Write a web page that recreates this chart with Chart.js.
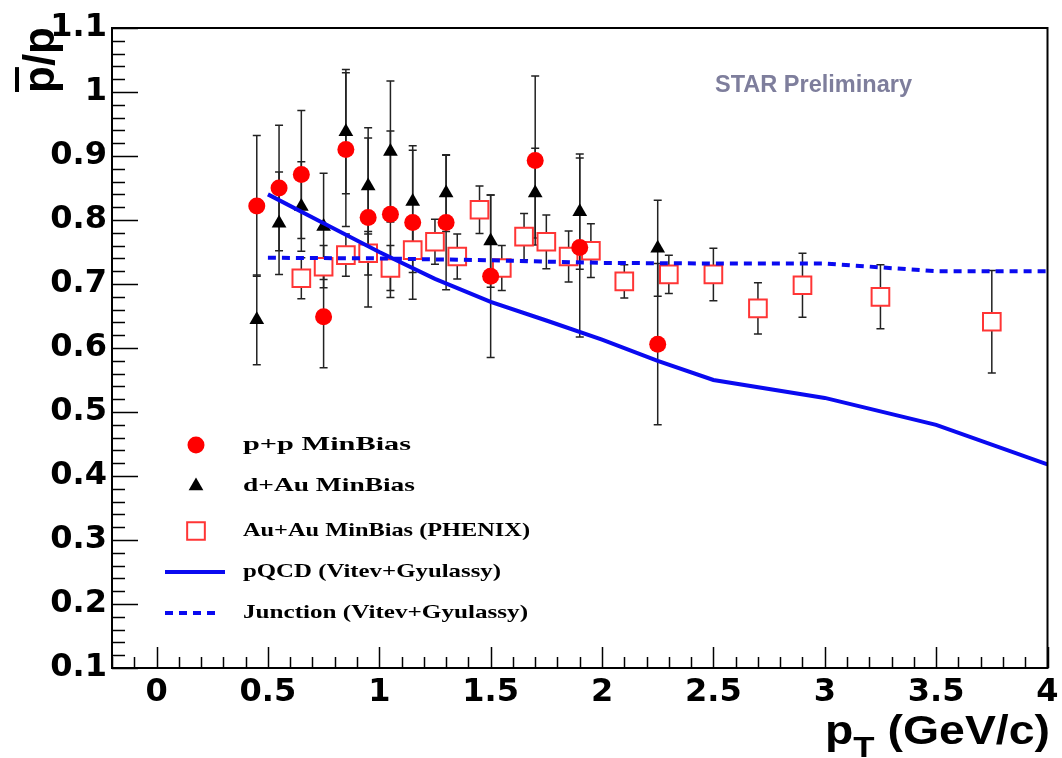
<!DOCTYPE html>
<html>
<head>
<meta charset="utf-8">
<script src="https://cdn.jsdelivr.net/npm/chart.js@4/dist/chart.umd.min.js"></script>
<style>
  html, body { margin: 0; padding: 0; background: #fff; }
</style>
</head>
<body>
<canvas id="ratio" width="1062" height="758"></canvas>
<script>
// pbar/p ratio vs pT

var xTickLabels = ['0', '0.5', '1', '1.5', '2', '2.5', '3', '3.5', '4']
var yTickLabels = ['0.1', '0.2', '0.3', '0.4', '0.5', '0.6', '0.7', '0.8', '0.9', '1', '1.1']

// p+p MinBias
var ppPt  = [0.45, 0.55, 0.65, 0.75, 0.85, 0.95, 1.05, 1.15, 1.3, 1.5, 1.7, 1.9, 2.25]
var ppVal = [0.822, 0.850, 0.871, 0.649, 0.910, 0.804, 0.809, 0.796, 0.796, 0.712, 0.893, 0.757, 0.606]
var ppErr = [0.11, 0.098, 0.10, 0.08, 0.12, 0.14, 0.13, 0.12, 0.105, 0.127, 0.132, 0.14, 0.126]

// d+Au MinBias
var dauPt  = [0.45, 0.55, 0.65, 0.75, 0.85, 0.95, 1.05, 1.15, 1.3, 1.5, 1.7, 1.9, 2.25]
var dauVal = [0.644, 0.795, 0.821, 0.790, 0.938, 0.853, 0.907, 0.829, 0.842, 0.767, 0.842, 0.813, 0.756]
var dauErr = [0.07, 0.08, 0.07, 0.083, 0.097, 0.075, 0.11, 0.08, 0.06, 0.072, 0.07, 0.09, 0.075]

// Au+Au MinBias (PHENIX)
var auPt  = [0.65, 0.75, 0.85, 0.95, 1.05, 1.15, 1.25, 1.35, 1.45, 1.55, 1.65, 1.75, 1.85, 1.95, 2.1, 2.3, 2.5, 2.7, 2.9, 3.25, 3.75]
var auVal = [0.709, 0.727, 0.745, 0.748, 0.725, 0.753, 0.766, 0.743, 0.816, 0.725, 0.774, 0.766, 0.743, 0.752, 0.704, 0.715, 0.715, 0.662, 0.698, 0.680, 0.641]
var auErr = [0.032, 0.033, 0.033, 0.034, 0.035, 0.035, 0.035, 0.035, 0.037, 0.035, 0.036, 0.042, 0.04, 0.042, 0.026, 0.03, 0.041, 0.04, 0.05, 0.05, 0.08]

// Vitev+Gyulassy curves
var pqcdPt  = [0.5, 0.75, 1.0, 1.25, 1.5, 1.75, 2.0, 2.25, 2.5, 3.0, 3.5, 4.0]
var pqcdVal = [0.840, 0.795, 0.750, 0.708, 0.672, 0.643, 0.613, 0.580, 0.550, 0.522, 0.480, 0.418]
var juncPt  = [0.5, 1.0, 1.5, 2.0, 2.5, 3.0, 3.25, 3.5, 4.0]
var juncVal = [0.741, 0.740, 0.737, 0.733, 0.732, 0.732, 0.726, 0.720, 0.720]

function pts(xs, ys) {
  return xs.map(function (x, i) { return { x: x, y: ys[i] } })
}

var errSets = [
  { pt: auPt, val: auVal, err: auErr },
  { pt: dauPt, val: dauVal, err: dauErr },
  { pt: ppPt, val: ppVal, err: ppErr },
]

var blue = '#0a0af0'
var red = '#ff0000'
var sqRed = '#ff3535'

// fit a string to a given width by squeezing/stretching horizontally
function fitText(ctx, text, x, y, width) {
  var w = ctx.measureText(text).width
  ctx.save()
  ctx.translate(x, y)
  ctx.scale(width / w, 1)
  ctx.fillText(text, 0, 0)
  ctx.restore()
}

var rootStyle = {
  id: 'rootStyle',
  beforeDatasetsDraw: function (chart) {
    var ctx = chart.ctx
    var xs = chart.scales.x, ys = chart.scales.y
    ctx.save()
    ctx.strokeStyle = '#222'
    ctx.lineWidth = 1.5
    errSets.forEach(function (s) {
      s.pt.forEach(function (p, i) {
        var x = xs.getPixelForValue(p)
        var y1 = ys.getPixelForValue(s.val[i] + s.err[i])
        var y2 = ys.getPixelForValue(s.val[i] - s.err[i])
        ctx.beginPath()
        ctx.moveTo(x, y1); ctx.lineTo(x, y2)
        ctx.moveTo(x - 4, y1); ctx.lineTo(x + 4, y1)
        ctx.moveTo(x - 4, y2); ctx.lineTo(x + 4, y2)
        ctx.stroke()
      })
    })
    ctx.restore()
  },
  afterDraw: function (chart) {
    var ctx = chart.ctx
    var a = chart.chartArea
    var xs = chart.scales.x, ys = chart.scales.y
    ctx.save()

    // frame
    ctx.strokeStyle = '#000'
    ctx.lineWidth = 2
    ctx.strokeRect(a.left, a.top, a.right - a.left, a.bottom - a.top)

    // inward tick marks, ROOT style
    ctx.lineWidth = 1.5
    ctx.beginPath()
    for (var k = 0; k <= 50; k++) {
      var v = 0.1 + k * 0.02
      var y = Math.round(ys.getPixelForValue(v)) + 0.5
      var len = k % 5 === 0 ? 26 : 13
      ctx.moveTo(a.left, y); ctx.lineTo(a.left + len, y)
    }
    for (var j = 0; j <= 42; j++) {
      var u = -0.2 + j * 0.1
      var x = Math.round(xs.getPixelForValue(u)) + 0.5
      var l = (j - 2) % 5 === 0 ? 21 : 11
      ctx.moveTo(x, a.bottom); ctx.lineTo(x, a.bottom - l)
    }
    ctx.stroke()

    // axis titles
    ctx.fillStyle = '#000'
    ctx.font = 'bold 40px "Liberation Sans", Arial, sans-serif'
    var wp = ctx.measureText('p').width
    var wRest = ctx.measureText(' (GeV/c)').width
    ctx.font = 'bold 30px "Liberation Sans", Arial, sans-serif'
    var wT = ctx.measureText('T').width
    var sx = (1050 - 825) / (wp + wT + wRest)
    ctx.save()
    ctx.translate(825, 0)
    ctx.scale(sx, 1)
    ctx.font = 'bold 40px "Liberation Sans", Arial, sans-serif'
    ctx.fillText('p', 0, 744)
    ctx.font = 'bold 30px "Liberation Sans", Arial, sans-serif'
    ctx.fillText('T', wp, 757)
    ctx.font = 'bold 40px "Liberation Sans", Arial, sans-serif'
    ctx.fillText(' (GeV/c)', wp + wT, 744)
    ctx.restore()

    ctx.save()
    ctx.translate(54, 60)
    ctx.rotate(-Math.PI / 2)
    ctx.font = 'bold 44px "Liberation Sans", Arial, sans-serif'
    ctx.textAlign = 'left'
    var wAll = ctx.measureText('p/p').width
    var w1 = ctx.measureText('p').width
    ctx.fillText('p/p', -wAll / 2, 0)
    ctx.fillRect(-wAll / 2 + 1, -39, w1 - 2, 4)
    ctx.restore()

    // STAR Preliminary
    ctx.fillStyle = '#7e7e9c'
    ctx.font = 'bold 23px "Liberation Sans", Arial, sans-serif'
    fitText(ctx, 'STAR Preliminary', 715, 92, 197)

    // legend
    var H = Chart.helpers
    var rows = [
      { y: 445, text: 'p+p MinBias', w: 168 },
      { y: 486, text: 'd+Au MinBias', w: 172 },
      { y: 531, text: 'Au+Au MinBias (PHENIX)', w: 287 },
      { y: 572, text: 'pQCD (Vitev+Gyulassy)', w: 258 },
      { y: 613, text: 'Junction (Vitev+Gyulassy)', w: 285 },
    ]
    ctx.fillStyle = red
    H.drawPoint(ctx, { pointStyle: 'circle', radius: 8.5, rotation: 0, borderWidth: 0 }, 196, rows[0].y)
    ctx.fillStyle = '#000'
    H.drawPoint(ctx, { pointStyle: 'triangle', radius: 8.5, rotation: 0, borderWidth: 0 }, 196, rows[1].y)
    ctx.fillStyle = '#fff'
    ctx.strokeStyle = sqRed
    ctx.lineWidth = 2
    H.drawPoint(ctx, { pointStyle: 'rect', radius: 12.5, rotation: 0, borderWidth: 2 }, 196, rows[2].y)
    ctx.strokeStyle = blue
    ctx.lineWidth = 4
    ctx.beginPath(); ctx.moveTo(165, rows[3].y); ctx.lineTo(225, rows[3].y); ctx.stroke()
    ctx.setLineDash([8, 6])
    ctx.beginPath(); ctx.moveTo(165, rows[4].y); ctx.lineTo(220, rows[4].y); ctx.stroke()
    ctx.setLineDash([])

    ctx.fillStyle = '#000'
    ctx.font = 'bold 19px "Liberation Serif", "Times New Roman", serif'
    ctx.textBaseline = 'middle'
    rows.forEach(function (r) { fitText(ctx, r.text, 243, r.y, r.w) })
    ctx.restore()
  },
}

var tickFont = { family: '"DejaVu Sans", sans-serif', weight: 'bold', size: 32 }

new Chart(document.getElementById('ratio').getContext('2d'), {
  type: 'scatter',
  data: {
    datasets: [
      {
        label: 'pQCD (Vitev+Gyulassy)',
        data: pts(pqcdPt, pqcdVal),
        showLine: true,
        borderColor: blue,
        borderWidth: 4,
        pointRadius: 0,
        order: 0,
      },
      {
        label: 'Junction (Vitev+Gyulassy)',
        data: pts(juncPt, juncVal),
        showLine: true,
        borderColor: blue,
        borderWidth: 4,
        borderDash: [8, 6],
        pointRadius: 0,
        order: 1,
      },
      {
        label: 'd+Au MinBias',
        data: pts(dauPt, dauVal),
        pointStyle: 'triangle',
        pointRadius: 8.5,
        backgroundColor: '#000',
        borderColor: '#000',
        borderWidth: 0,
        order: 2,
      },
      {
        label: 'p+p MinBias',
        data: pts(ppPt, ppVal),
        pointStyle: 'circle',
        pointRadius: 8.5,
        backgroundColor: red,
        borderColor: red,
        borderWidth: 0,
        order: 3,
      },
      {
        label: 'Au+Au MinBias (PHENIX)',
        data: pts(auPt, auVal),
        pointStyle: 'rect',
        pointRadius: 12.5,
        backgroundColor: '#fff',
        borderColor: sqRed,
        borderWidth: 2,
        order: 4,
      },
    ],
  },
  options: {
    responsive: false,
    animation: false,
    events: [],
    layout: { padding: { top: 28, right: 12, left: 0, bottom: 0 } },
    plugins: {
      legend: { display: false },
      tooltip: { enabled: false },
    },
    scales: {
      x: {
        type: 'linear',
        min: -0.2,
        max: 4,
        afterBuildTicks: function (s) {
          s.ticks = xTickLabels.map(function (t) { return { value: parseFloat(t) } })
        },
        afterFit: function (s) {
          s.height = 90
          // let the last label hang over the frame edge
          s.paddingRight = 0
          s.paddingLeft = 0
        },
        grid: { display: false, drawTicks: false },
        border: { display: false },
        ticks: {
          autoSkip: false,
          maxRotation: 0,
          padding: 5,
          color: '#000',
          font: tickFont,
          callback: function (v, i) { return xTickLabels[i] },
        },
      },
      y: {
        type: 'linear',
        min: 0.1,
        max: 1.1,
        afterBuildTicks: function (s) {
          s.ticks = yTickLabels.map(function (t) { return { value: parseFloat(t) } })
        },
        afterFit: function (s) {
          s.width = 112
          s.paddingTop = 0
          s.paddingBottom = 0
        },
        grid: { display: false, drawTicks: false },
        border: { display: false },
        ticks: {
          autoSkip: false,
          padding: 5,
          color: '#000',
          font: tickFont,
          callback: function (v, i) { return yTickLabels[i] },
        },
      },
    },
  },
  plugins: [rootStyle],
})
</script>
</body>
</html>
